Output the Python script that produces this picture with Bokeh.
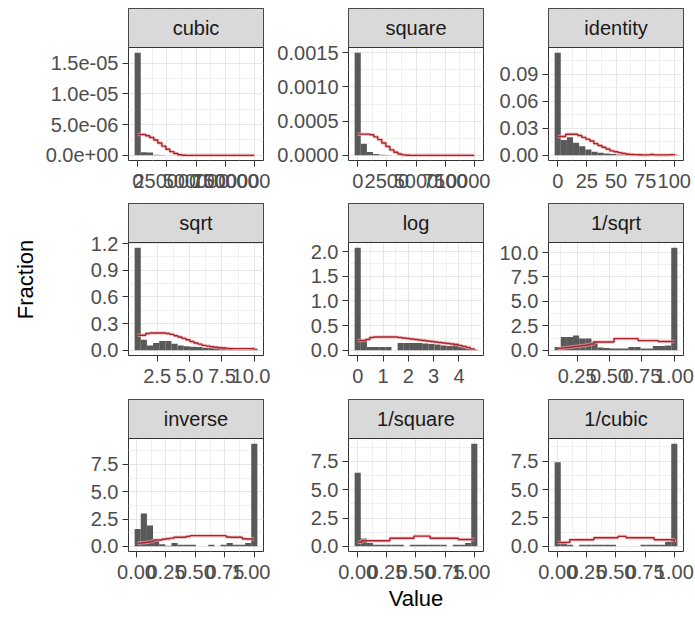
import numpy as np
from bokeh.plotting import figure
from bokeh.layouts import column, row
from bokeh.models import FixedTicker, Range1d
from bokeh.core.properties import value
from bokeh.embed import file_html
from bokeh.resources import INLINE

# ---------------- data ----------------
PANELS = ["cubic", "square", "identity", "sqrt", "log", "1/sqrt", "inverse", "1/square", "1/cubic"]
DATA_MIN = [0, 0, 0, 1, 0, 0.1, 0.01, 0.0001, 0.000001]
DATA_MAX = [1e6, 1e4, 100, 10, 4.605, 1, 1, 1, 1]
GREY_BINS = 20
RED_BINS = 30

grey_cubic = [16.7e-6, 0.5e-6, 0.45e-6, 0.12e-6, 0.05e-6] + [0.0] * 15
red_cubic = [3.4e-6, 3.4e-6, 3.2e-6, 2.9e-6, 2.5e-6, 2.0e-6, 1.5e-6, 1.0e-6, 0.6e-6, 0.3e-6,
             0.1e-6, 0.03e-6] + [0.0] * 18

grey_square = [1.5e-3, 1.7e-4, 5e-5, 2e-5, 1e-5, 5e-6] + [0.0] * 14
red_square = [3.1e-4, 3.1e-4, 3.1e-4, 3.0e-4, 2.7e-4, 2.3e-4, 1.8e-4, 1.3e-4, 0.8e-4, 0.45e-4,
              0.2e-4, 0.07e-4, 0.02e-4] + [0.0] * 17

grey_identity = [0.114, 0.017, 0.020, 0.014, 0.010, 0.0065, 0.004, 0.003, 0.002, 0.0015,
                 0.001, 0.0005, 0.0, 0.0, 0.0005, 0.0, 0.0, 0.0, 0.0, 0.001]
red_identity = [0.021, 0.021, 0.0235, 0.0235, 0.0235, 0.022, 0.020, 0.018, 0.016, 0.013,
                0.011, 0.009, 0.007, 0.005, 0.004, 0.003, 0.002, 0.0012, 0.001, 0.0008,
                0.0006, 0.0005, 0.0005, 0.001, 0.0005, 0.0005, 0.0005, 0.0005, 0.0008, 0.0015]

grey_sqrt = [1.155, 0.12, 0.056, 0.083, 0.105, 0.105, 0.075, 0.056, 0.045, 0.04,
             0.038, 0.03, 0.028, 0.028, 0.028, 0.025, 0.005, 0.005, 0.005, 0.02]
red_sqrt = [0.17, 0.17, 0.19, 0.195, 0.195, 0.195, 0.195, 0.19, 0.18, 0.165,
            0.15, 0.135, 0.12, 0.10, 0.083, 0.07, 0.056, 0.048, 0.04, 0.035,
            0.03, 0.026, 0.022, 0.02, 0.019, 0.019, 0.019, 0.019, 0.02, 0.03]

grey_log = [2.08, 0.2, 0.07, 0.07, 0.07, 0.07, 0.0, 0.15, 0.15, 0.15,
            0.15, 0.14, 0.13, 0.12, 0.1, 0.09, 0.135, 0.08, 0.05, 0.02]
red_log = [0.2, 0.2, 0.22, 0.26, 0.27, 0.27, 0.27, 0.27, 0.27, 0.27,
           0.26, 0.25, 0.24, 0.23, 0.22, 0.21, 0.2, 0.19, 0.18, 0.17,
           0.16, 0.15, 0.14, 0.13, 0.12, 0.1, 0.08, 0.06, 0.03, 0.01]

grey_isqrt = [0.34, 1.36, 1.36, 1.53, 1.2, 1.2, 0.9, 0.3, 0.24, 0.2,
              0.2, 0.2, 0.34, 0.34, 0.2, 0.2, 0.44, 0.44, 0.5, 10.5]
red_isqrt = [0.2, 0.25, 0.3, 0.35, 0.4, 0.45, 0.5, 0.55, 0.65, 0.85,
             0.85, 0.85, 0.85, 0.85, 1.2, 1.2, 1.2, 1.2, 1.2, 1.2,
             1.0, 1.0, 1.0, 1.0, 1.0, 0.9, 0.9, 0.9, 0.9, 0.9]

grey_inverse = [1.6, 3.0, 1.9, 0.5, 0.2, 0.05, 0.3, 0.15, 0.15, 0.15,
                0.0, 0.0, 0.15, 0.0, 0.15, 0.3, 0.15, 0.15, 0.3, 9.4]
red_inverse = [0.3, 0.33, 0.38, 0.45, 0.58, 0.58, 0.65, 0.7, 0.75, 0.83,
               0.83, 0.83, 0.9, 0.98, 0.98, 0.98, 0.98, 0.98, 0.98, 0.98,
               0.98, 0.98, 0.85, 0.83, 0.83, 0.83, 0.7, 0.67, 0.67, 0.67]

grey_isquare = [6.5, 0.7, 0.3, 0.15, 0.15, 0.15, 0.15, 0.15, 0.0, 0.15,
                0.15, 0.15, 0.15, 0.15, 0.15, 0.0, 0.15, 0.15, 0.3, 9.07]
red_isquare = [0.36, 0.5, 0.5, 0.5, 0.5, 0.5, 0.5, 0.5, 0.72, 0.72,
               0.72, 0.72, 0.72, 0.72, 0.9, 0.9, 0.9, 0.9, 0.72, 0.72,
               0.72, 0.72, 0.72, 0.72, 0.72, 0.6, 0.6, 0.6, 0.6, 0.6]

grey_icubic = [7.4, 0.35, 0.15, 0.0, 0.15, 0.15, 0.15, 0.15, 0.15, 0.15,
               0.0, 0.0, 0.0, 0.0, 0.15, 0.15, 0.15, 0.15, 0.4, 9.04]
red_icubic = [0.35, 0.35, 0.35, 0.58, 0.58, 0.58, 0.58, 0.58, 0.58, 0.76,
              0.76, 0.76, 0.76, 0.76, 0.76, 0.88, 0.88, 0.76, 0.76, 0.76,
              0.76, 0.76, 0.76, 0.76, 0.58, 0.58, 0.58, 0.58, 0.58, 0.35]

GREY = [grey_cubic, grey_square, grey_identity, grey_sqrt, grey_log,
        grey_isqrt, grey_inverse, grey_isquare, grey_icubic]
RED = [red_cubic, red_square, red_identity, red_sqrt, red_log,
       red_isqrt, red_inverse, red_isquare, red_icubic]

x_ticks_cubic = [0, 250000, 500000, 750000, 1000000]
x_labels_cubic = ["0", "250000", "500000", "750000", "1000000"]
x_ticks_square = [0, 2500, 5000, 7500, 10000]
x_labels_square = ["0", "2500", "5000", "7500", "10000"]
x_ticks_identity = [0, 25, 50, 75, 100]
x_labels_identity = ["0", "25", "50", "75", "100"]
x_ticks_sqrt = [2.5, 5.0, 7.5, 10.0]
x_labels_sqrt = ["2.5", "5.0", "7.5", "10.0"]
x_ticks_log = [0, 1, 2, 3, 4]
x_labels_log = ["0", "1", "2", "3", "4"]
x_ticks_isqrt = [0.25, 0.5, 0.75, 1.0]
x_labels_isqrt = ["0.25", "0.50", "0.75", "1.00"]
x_ticks_unit = [0.0, 0.25, 0.5, 0.75, 1.0]
x_labels_unit = ["0.00", "0.25", "0.50", "0.75", "1.00"]

y_ticks_cubic = [0, 5e-6, 1e-5, 1.5e-5]
y_labels_cubic = ["0.0e+00", "5.0e-06", "1.0e-05", "1.5e-05"]
y_ticks_square = [0, 0.0005, 0.001, 0.0015]
y_labels_square = ["0.0000", "0.0005", "0.0010", "0.0015"]
y_ticks_identity = [0, 0.03, 0.06, 0.09]
y_labels_identity = ["0.00", "0.03", "0.06", "0.09"]
y_ticks_sqrt = [0, 0.3, 0.6, 0.9, 1.2]
y_labels_sqrt = ["0.0", "0.3", "0.6", "0.9", "1.2"]
y_ticks_log = [0, 0.5, 1.0, 1.5, 2.0]
y_labels_log = ["0.0", "0.5", "1.0", "1.5", "2.0"]
y_ticks_isqrt = [0, 2.5, 5.0, 7.5, 10.0]
y_labels_isqrt = ["0.0", "2.5", "5.0", "7.5", "10.0"]
y_ticks_inv = [0, 2.5, 5.0, 7.5]
y_labels_inv = ["0.0", "2.5", "5.0", "7.5"]

X_TICKS = [x_ticks_cubic, x_ticks_square, x_ticks_identity, x_ticks_sqrt, x_ticks_log,
           x_ticks_isqrt, x_ticks_unit, x_ticks_unit, x_ticks_unit]
X_LABELS = [x_labels_cubic, x_labels_square, x_labels_identity, x_labels_sqrt, x_labels_log,
            x_labels_isqrt, x_labels_unit, x_labels_unit, x_labels_unit]
Y_TICKS = [y_ticks_cubic, y_ticks_square, y_ticks_identity, y_ticks_sqrt, y_ticks_log,
           y_ticks_isqrt, y_ticks_inv, y_ticks_inv, y_ticks_inv]
Y_LABELS = [y_labels_cubic, y_labels_square, y_labels_identity, y_labels_sqrt, y_labels_log,
            y_labels_isqrt, y_labels_inv, y_labels_inv, y_labels_inv]

# ---------------- layout / style ----------------
FONT = "Liberation Sans"
TICK_FONT = "20px"
FRAME_W = 135
STRIP_PX = 39
PLOT_PX = 113
COL_LEFT = [128, 78, 58]
COL_RIGHT = [7, 7, 11]
ROW_TOP = [8, 0, 0]
ROW_BOTTOM = [43, 44, 62]
BAR_COLOR = "#595959"
RED_COLOR = "#A8232B"
HALO_COLOR = "#F2AFAF"
BORDER = "#333333"


def minor_breaks(ticks, lo, hi):
    step = ticks[1] - ticks[0]
    cand = [t - step / 2 for t in ticks] + [ticks[-1] + step / 2]
    return [c for c in cand if lo <= c <= hi]


def make_panel(i):
    r, c = divmod(i, 3)
    lo, hi = DATA_MIN[i], DATA_MAX[i]
    grey = np.array(GREY[i], dtype=float)
    red = np.array(RED[i], dtype=float)

    wg = (hi - lo) / (GREY_BINS - 1)
    g_edges = lo - wg / 2 + wg * np.arange(GREY_BINS + 1)
    r_centers = np.linspace(lo, hi, RED_BINS)

    span_x = g_edges[-1] - g_edges[0]
    xlo = g_edges[0] - 0.05 * span_x
    xhi = g_edges[-1] + 0.05 * span_x

    ymax = max(grey.max(), red.max())
    ylo = -0.05 * ymax
    yhi = 1.05 * ymax
    strip_h = (yhi - ylo) * STRIP_PX / PLOT_PX
    ytop = yhi + strip_h

    p = figure(frame_width=FRAME_W, frame_height=STRIP_PX + PLOT_PX,
               x_range=Range1d(xlo, xhi), y_range=Range1d(ylo, ytop),
               output_backend="svg", toolbar_location=None, tools="",
               min_border_left=COL_LEFT[c], min_border_right=COL_RIGHT[c],
               min_border_top=ROW_TOP[r], min_border_bottom=ROW_BOTTOM[r],
               background_fill_color="white", border_fill_color="white",
               outline_line_color=BORDER, outline_line_width=1)

    # axes
    xt, yt = X_TICKS[i], Y_TICKS[i]
    p.xaxis.ticker = FixedTicker(ticks=xt, minor_ticks=minor_breaks(xt, xlo, xhi))
    p.yaxis.ticker = FixedTicker(ticks=yt, minor_ticks=minor_breaks(yt, ylo, yhi))
    p.xaxis.major_label_overrides = {float(t): l for t, l in zip(xt, X_LABELS[i])}
    p.yaxis.major_label_overrides = {float(t): l for t, l in zip(yt, Y_LABELS[i])}
    for ax in (p.xaxis[0], p.yaxis[0]):
        ax.axis_line_color = None
        ax.major_tick_line_color = BORDER
        ax.major_tick_out = 6
        ax.major_tick_in = 0
        ax.minor_tick_line_color = None
        ax.major_label_text_font = FONT
        ax.major_label_text_font_size = TICK_FONT
        ax.major_label_text_color = "#4D4D4D"
        ax.axis_label_text_font = FONT
        ax.axis_label_text_font_size = "22px"
        ax.axis_label_text_font_style = "normal"
        ax.axis_label_text_color = "#000000"
    p.xaxis.major_label_standoff = 7
    p.yaxis.major_label_standoff = 4
    for g in (p.xgrid[0], p.ygrid[0]):
        g.grid_line_color = "#E6E6E6"
        g.grid_line_width = 1
        g.minor_grid_line_color = "#F0F0F0"
        g.minor_grid_line_width = 1

    if i == 3:
        p.yaxis.axis_label = "Fraction"
        p.yaxis.axis_label_standoff = 50
    if i == 7:
        p.xaxis.axis_label = "Value"
        p.xaxis.axis_label_standoff = 4

    # white band under the red step
    p.quad(left=r_centers[:-1], right=r_centers[1:], bottom=0, top=red[:-1],
           fill_color="white", line_color=None)
    # histogram bars
    p.quad(left=g_edges[:-1], right=g_edges[1:], bottom=0, top=grey,
           fill_color=BAR_COLOR, line_color=None)
    # red step line
    p.step(x=r_centers, y=red, mode="after", line_color=HALO_COLOR,
           line_width=3.5, line_alpha=0.7)
    p.step(x=r_centers, y=red, mode="after", line_color=RED_COLOR, line_width=1.4)

    # strip
    p.quad(left=[xlo], right=[xhi], bottom=[yhi], top=[ytop],
           fill_color="#D9D9D9", line_color=BORDER, line_width=1)
    p.text(x=[(xlo + xhi) / 2], y=[yhi + strip_h / 2], text=[PANELS[i]],
           text_align="center", text_baseline="middle",
           text_font=value(FONT), text_font_size=value("20px"),
           text_color="#1A1A1A")
    return p


figs = [make_panel(i) for i in range(9)]
layout = column(row(*figs[0:3]), row(*figs[3:6]), row(*figs[6:9]))

open("out.html", "w").write(file_html(layout, INLINE))
